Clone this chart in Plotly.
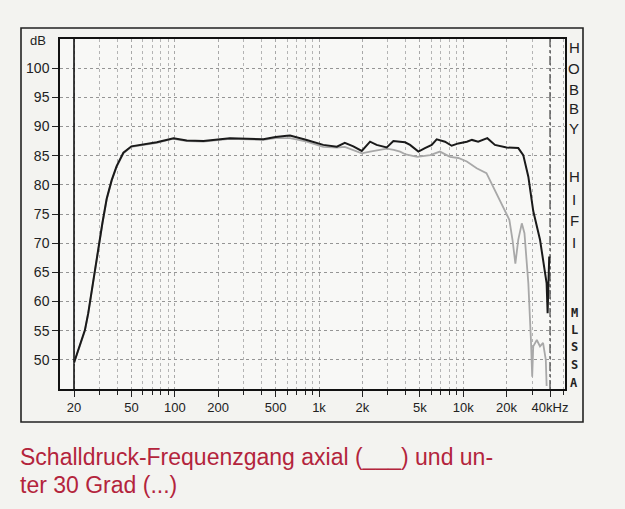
import plotly.graph_objects as go

# ---- data ----
axial_freq = [20, 22, 23.8, 25.1, 27, 29.5, 31.5, 33.7, 36.5, 39.5, 44, 50, 60, 75, 98, 121, 158, 241,
              411, 500, 600, 630, 822, 1070, 1330, 1510, 1730, 1980, 2260, 2510, 2950, 3280, 3650,
              3950, 4280, 4890, 5430, 6050, 6550, 7480, 8320, 9250, 10600, 11500, 12700, 14700,
              16600, 20000, 24100, 26100, 28300, 30600, 34100, 37900, 38500, 39000, 39500]
axial_db = [49.5, 52.5, 55.1, 58.0, 63.0, 69.6, 73.5, 77.6, 80.8, 83.2, 85.5, 86.6, 86.9, 87.3, 88.0, 87.6,
            87.5, 88.0, 87.8, 88.2, 88.4, 88.45, 87.7, 86.85, 86.55, 87.2, 86.6, 85.8, 87.4, 86.85, 86.4,
            87.5, 87.4, 87.3, 86.85, 85.7, 86.3, 86.85, 87.8, 87.4, 86.7, 87.1, 87.4, 87.7, 87.4, 88.0,
            86.85, 86.4, 86.3, 85.1, 81.4, 75.5, 70.6, 63.1, 58.0, 62.0, 67.7]

deg30_freq = [20, 22, 23.8, 25.1, 27, 29.5, 31.5, 33.7, 36.5, 39.5, 44, 50, 60, 75, 98, 121, 158, 241,
              411, 500, 630, 822, 1070, 1330, 1510, 1730, 1980, 2260, 2600, 2950, 3300, 3650, 4000,
              4800, 5900, 6900, 8100, 9250, 10600, 12400, 14500, 16100, 17900, 20000, 20900, 22000,
              23000, 24100, 25500, 26600, 28300, 29500, 30100, 30600, 32400, 34100, 35800, 37400, 37900]
deg30_db = [49.4, 52.4, 55.0, 57.9, 62.9, 69.5, 73.4, 77.5, 80.7, 83.1, 85.4, 86.5, 86.8, 87.2, 87.9, 87.5,
            87.4, 87.9, 87.7, 88.0, 88.0, 87.4, 86.5, 86.4, 86.5, 86.0, 85.4, 85.7, 86.0, 86.2, 86.0,
            85.7, 85.2, 84.8, 85.1, 85.7, 84.8, 84.6, 84.0, 82.85, 82.0, 79.7, 77.4, 75.1, 74.0, 70.5,
            66.5, 70.6, 73.4, 71.7, 63.1, 53.4, 47.1, 52.3, 53.4, 52.3, 52.9, 50.0, 45.5]

x_tick_vals = [20, 50, 100, 200, 500, 1000, 2000, 5000, 10000, 20000, 40000]
x_tick_text = ["20", "50", "100", "200", "500", "1k", "2k", "5k", "10k", "20k", "40kHz"]
x_minor_vals = [m * d for d in (10, 100, 1000, 10000) for m in range(1, 10) if 16 <= m * d <= 50000]
y_tick_vals = [50, 55, 60, 65, 70, 75, 80, 85, 90, 95, 100]

caption_1 = "Schalldruck-Frequenzgang axial (___) und un-"
caption_2 = "ter 30 Grad (...)"
side_letters_top = ["H", "O", "B", "B", "Y", "H", "I", "F", "I"]
side_letters_bottom = ["M", "L", "S", "S", "A"]

# ---- geometry (pixels) ----
W, H = 625, 509
L, R, T, B = 60, 565, 39, 389
pw, ph = R - L, B - T
PAPER = "#f3f3f0"


def px(xp):
    return (xp - L) / pw


def py(yp):
    return (B - yp) / ph


fig = go.Figure()

# reference lines at 20 Hz (solid) and 40 kHz (dash-dot)
fig.add_trace(go.Scatter(x=[20, 20], y=[45, 105], mode="lines",
                         line=dict(color="#111111", width=1.6), hoverinfo="skip", showlegend=False))
fig.add_trace(go.Scatter(x=[40000, 40000], y=[45, 105], mode="lines",
                         line=dict(color="#444444", width=1.2, dash="dashdot"), hoverinfo="skip",
                         showlegend=False))

fig.add_trace(go.Scatter(x=deg30_freq, y=deg30_db, mode="lines",
                         line=dict(color="#a8a8a8", width=1.8), showlegend=False))
fig.add_trace(go.Scatter(x=axial_freq, y=axial_db, mode="lines",
                         line=dict(color="#1a1a1a", width=2.0), showlegend=False))

font_fam = "Liberation Sans, Arial, sans-serif"

fig.update_xaxes(
    type="log", range=[1.2039, 4.706],
    tickmode="array", tickvals=x_tick_vals, ticktext=x_tick_text,
    ticks="outside", ticklen=6, tickcolor="#222", tickwidth=1,
    showgrid=True, gridcolor="#a8a8a8", griddash="dot", gridwidth=1,
    minor=dict(tickmode="array", tickvals=x_minor_vals, ticks="outside", ticklen=4,
               tickcolor="#222", showgrid=True, gridcolor="#b4b4b4", griddash="dot", gridwidth=1),
    showline=True, linecolor="#111", linewidth=1.5, mirror=True,
    zeroline=False, tickfont=dict(family=font_fam, size=13, color="#222"),
)
fig.update_yaxes(
    range=[45, 105], tickmode="array", tickvals=y_tick_vals,
    ticks="outside", ticklen=6, tickcolor="#222",
    showgrid=True, gridcolor="#959595", griddash="dot", gridwidth=1,
    showline=True, linecolor="#111", linewidth=1.5, mirror=True,
    zeroline=False, tickfont=dict(family=font_fam, size=14, color="#222"),
)

annotations = []
annotations.append(dict(x=px(38), y=py(40), xref="paper", yref="paper", text="dB", showarrow=False,
                        font=dict(family=font_fam, size=13, color="#222"), xanchor="center",
                        yanchor="middle"))
top_y = [48, 68, 89, 108, 128, 177, 199, 220, 242]
for ch, yy in zip(side_letters_top, top_y):
    annotations.append(dict(x=px(574), y=py(yy), xref="paper", yref="paper", text=ch, showarrow=False,
                            font=dict(family=font_fam, size=15, color="#222"), xanchor="center",
                            yanchor="middle"))
bot_y = [313, 330, 347, 365, 383]
for ch, yy in zip(side_letters_bottom, bot_y):
    annotations.append(dict(x=px(574), y=py(yy), xref="paper", yref="paper", text="<b>" + ch + "</b>",
                            showarrow=False,
                            font=dict(family="DejaVu Sans Mono, monospace", size=12, color="#222"),
                            xanchor="center", yanchor="middle"))
cap_font = dict(family="Liberation Sans, Arial, sans-serif", size=23, color="#b3243c")
annotations.append(dict(x=px(18), y=py(457), xref="paper", yref="paper", text=caption_1, showarrow=False,
                        font=cap_font, xanchor="left", yanchor="middle"))
annotations.append(dict(x=px(18), y=py(485), xref="paper", yref="paper", text=caption_2, showarrow=False,
                        font=cap_font, xanchor="left", yanchor="middle"))

fig.update_layout(
    width=W, height=H,
    margin=dict(l=L, r=W - R, t=T, b=H - B, pad=0),
    paper_bgcolor=PAPER, plot_bgcolor="#f8f8f6",
    annotations=annotations,
    shapes=[dict(type="rect", xref="paper", yref="paper", x0=px(21), x1=px(583), y0=py(422), y1=py(28),
                 line=dict(color="#222", width=1.6), fillcolor="rgba(0,0,0,0)", layer="below")],
)

fig.write_html("out.html", config={"displayModeBar": False},
               post_script="document.body.style.margin='0';document.body.style.overflow='hidden';"
                           "document.body.style.background='" + PAPER + "';")
